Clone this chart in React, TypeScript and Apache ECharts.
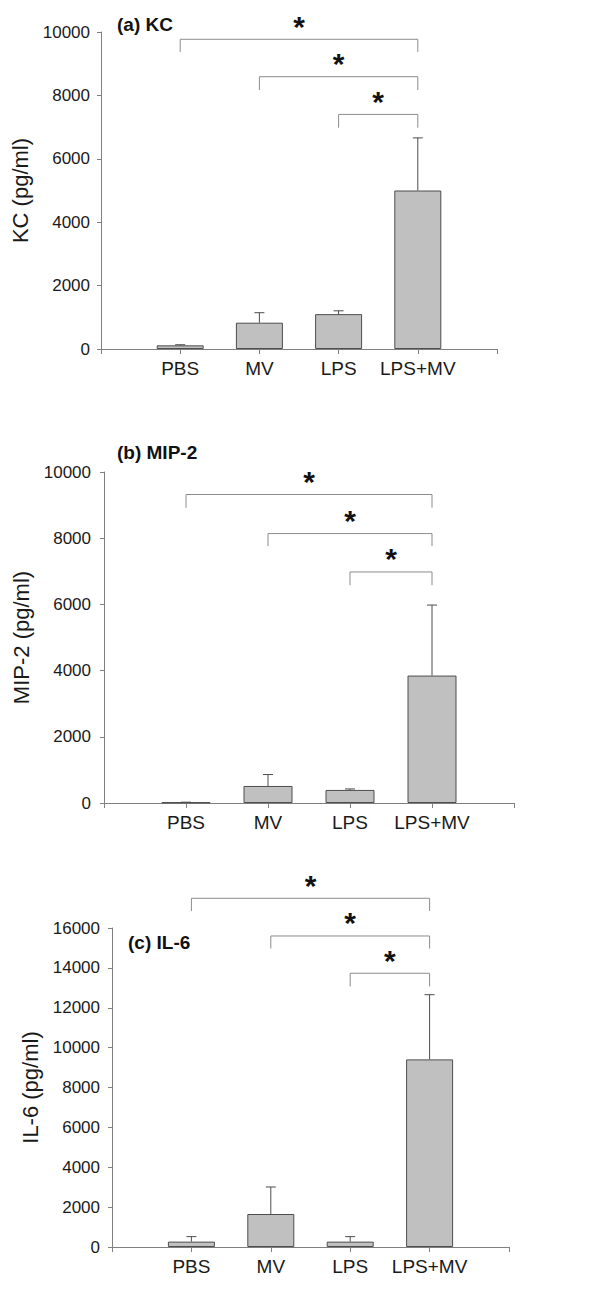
import React, { useEffect, useRef } from "react";
import * as echarts from "echarts";

const categories = ["PBS", "MV", "LPS", "LPS+MV"];

const kcMean = [115, 830, 1100, 5000];
const kcErr = [20, 315, 105, 1660];
const mip2Mean = [20, 515, 395, 3850];
const mip2Err = [5, 345, 30, 2130];
const il6Mean = [270, 1655, 270, 9410];
const il6Err = [250, 1355, 250, 3245];

// [fromIndex, toIndex, bracketLevel, tipLevel]
const kcBrackets = [
  [0, 3, 9770, 9370],
  [1, 3, 8590, 8170],
  [2, 3, 7400, 6980],
];
const mip2Brackets = [
  [0, 3, 9320, 8920],
  [1, 3, 8140, 7760],
  [2, 3, 6980, 6580],
];
const il6Brackets = [
  [0, 3, 17490, 16850],
  [1, 3, 15600, 14970],
  [2, 3, 13730, 13070],
];

const panelTitles = ["(a) KC", "(b) MIP-2", "(c) IL-6"];
const yNames = ["KC (pg/ml)", "MIP-2 (pg/ml)", "IL-6 (pg/ml)"];
const yMax = [10000, 10000, 16000];
const yInterval = [2000, 2000, 2000];

const FONT = "'Liberation Sans', Arial, sans-serif";
const AXIS_COLOR = "#808080";
const TEXT_COLOR = "#1a1a1a";

export default function App() {
  const ref = useRef<HTMLDivElement>(null);

  useEffect(() => {
    if (!ref.current) return;
    const chart = echarts.init(ref.current, null, { renderer: "svg" });

    const grids = [
      { left: 101, top: 32, width: 396, height: 317 },
      { left: 104, top: 472, width: 410, height: 331 },
      { left: 112, top: 928, width: 397, height: 319 },
    ];
    const barWidths = [47, 49, 47];
    const nameGaps = [64, 67, 67];
    const yLabelMargins = [11, 13, 12];
    const means = [kcMean, mip2Mean, il6Mean];
    const errs = [kcErr, mip2Err, il6Err];
    const brackets = [kcBrackets, mip2Brackets, il6Brackets];

    const xAxes = grids.map((_, i) => ({
      type: "value",
      gridIndex: i,
      min: 0,
      max: 5,
      interval: 1,
      splitLine: { show: false },
      axisLine: { show: true, lineStyle: { color: AXIS_COLOR, width: 1 } },
      axisTick: { show: true, length: 5, lineStyle: { color: AXIS_COLOR } },
      axisLabel: {
        margin: 10,
        fontSize: 19,
        fontFamily: FONT,
        color: TEXT_COLOR,
        formatter: (v: number) => categories[v - 1] ?? "",
        showMinLabel: true,
        showMaxLabel: true,
      },
    }));

    const yAxes = grids.map((_, i) => ({
      type: "value",
      gridIndex: i,
      min: 0,
      max: yMax[i],
      interval: yInterval[i],
      name: yNames[i],
      nameLocation: "middle",
      nameGap: nameGaps[i],
      nameTextStyle: { fontSize: 22, fontFamily: FONT, color: TEXT_COLOR },
      splitLine: { show: false },
      axisLine: { show: true, lineStyle: { color: AXIS_COLOR, width: 1 } },
      axisTick: { show: true, length: 4, lineStyle: { color: AXIS_COLOR } },
      axisLabel: {
        margin: yLabelMargins[i],
        fontSize: 17,
        fontFamily: FONT,
        color: TEXT_COLOR,
        formatter: (v: number) => String(v),
      },
    }));

    const series: any[] = [];
    grids.forEach((_, i) => {
      series.push({
        type: "bar",
        xAxisIndex: i,
        yAxisIndex: i,
        barWidth: barWidths[i],
        data: means[i].map((v, k) => [k + 1, v]),
        itemStyle: { color: "#c0c0c0", borderColor: "#4d4d4d", borderWidth: 1 },
        z: 2,
      });
      series.push({
        type: "custom",
        xAxisIndex: i,
        yAxisIndex: i,
        z: 3,
        data: means[i].map((v, k) => [k + 1, v, v + errs[i][k]]),
        renderItem: (params: any, api: any) => {
          const x = api.value(0);
          const base = api.coord([x, api.value(1)]);
          const top = api.coord([x, api.value(2)]);
          const hw = 5;
          return {
            type: "group",
            children: [
              {
                type: "line",
                shape: { x1: base[0], y1: base[1], x2: top[0], y2: top[1] },
                style: { stroke: "#4d4d4d", lineWidth: 1 },
              },
              {
                type: "line",
                shape: { x1: top[0] - hw, y1: top[1], x2: top[0] + hw, y2: top[1] },
                style: { stroke: "#4d4d4d", lineWidth: 1 },
              },
            ],
          };
        },
      });
      series.push({
        type: "custom",
        xAxisIndex: i,
        yAxisIndex: i,
        z: 4,
        clip: false,
        data: brackets[i].map((b) => [b[0] + 1, b[1] + 1, b[2], b[3]]),
        renderItem: (params: any, api: any) => {
          const x1 = api.value(0);
          const x2 = api.value(1);
          const lvl = api.value(2);
          const tip = api.value(3);
          const a = api.coord([x1, lvl]);
          const b = api.coord([x2, lvl]);
          const at = api.coord([x1, tip]);
          const bt = api.coord([x2, tip]);
          const mid = (a[0] + b[0]) / 2;
          return {
            type: "group",
            children: [
              {
                type: "polyline",
                shape: { points: [at, a, b, bt] },
                style: { stroke: "#8c8c8c", lineWidth: 1, fill: "none" },
              },
              {
                type: "text",
                x: mid,
                y: a[1] - 13,
                style: {
                  text: "*",
                  font: `bold 30px ${FONT}`,
                  fill: "#111",
                  textAlign: "center",
                  textVerticalAlign: "middle",
                },
              },
            ],
          };
        },
      });
    });

    const titleTops = [15, 443, 933];
    const titleLefts = [117, 117, 128];

    chart.setOption({
      animation: false,
      backgroundColor: "#ffffff",
      title: panelTitles.map((t, i) => ({
        text: t,
        left: titleLefts[i],
        top: titleTops[i],
        padding: 0,
        textStyle: { fontSize: 19, fontWeight: "bold", fontFamily: FONT, color: "#111" },
      })),
      grid: grids,
      xAxis: xAxes,
      yAxis: yAxes,
      series,
    });

    return () => chart.dispose();
  }, []);

  return (
    <div
      ref={ref}
      style={{ position: "absolute", left: 0, top: 0, width: 600, height: 1296 }}
    />
  );
}
